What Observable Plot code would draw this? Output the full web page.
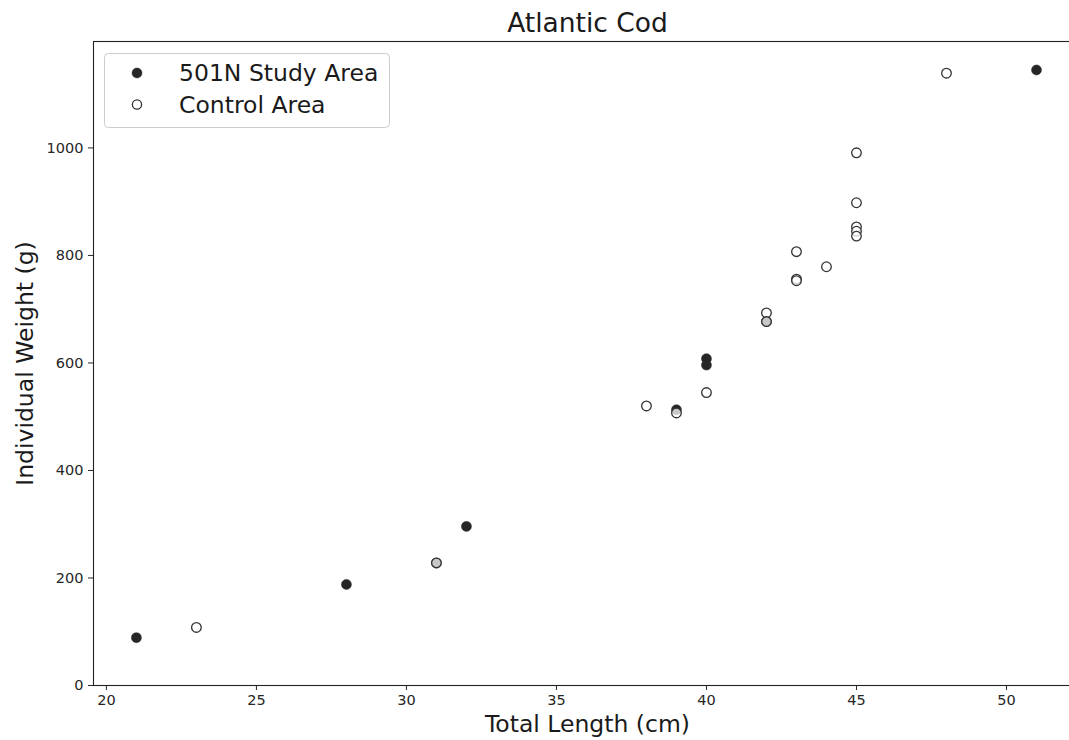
<!DOCTYPE html>
<html>
<head>
<meta charset="utf-8">
<script src="https://cdn.jsdelivr.net/npm/d3@7"></script>
<script src="https://cdn.jsdelivr.net/npm/@observablehq/plot@0.6"></script>
<style>
html, body { margin: 0; padding: 0; background: #fff; overflow: hidden; }
#chart { width: 1069px; height: 740px; overflow: hidden; }
</style>
</head>
<body>
<div id="chart"></div>
<script>
// ---- data ----
const title = "Atlantic Cod";
const xLabel = "Total Length (cm)";
const yLabel = "Individual Weight (g)";
const seriesNames = ["501N Study Area", "Control Area"];

const studyLength = [21, 28, 31, 32, 39, 40, 40, 42, 51];
const studyWeight = [89, 188, 228, 296, 513, 608, 596, 677, 1145];

const controlLength = [23, 31, 38, 39, 40, 42, 42, 43, 43, 43, 44, 45, 45, 45, 45, 45, 48];
const controlWeight = [108, 228, 520, 507, 545, 693, 677, 807, 756, 753, 779, 991, 898, 853, 845, 836, 1139];

const xTicks = [20, 25, 30, 35, 40, 45, 50];
const yTicks = [0, 200, 400, 600, 800, 1000];

const study = studyLength.map((l, i) => ({length: l, weight: studyWeight[i]}));
const control = controlLength.map((l, i) => ({length: l, weight: controlWeight[i]}));

const font = "DejaVu Sans, sans-serif";

const chart = Plot.plot({
  width: 1082,
  height: 740,
  marginLeft: 93,
  marginRight: 1,
  marginTop: 41,
  marginBottom: 55,
  style: {fontFamily: font, fontSize: "14.5px", color: "#262626", background: "#fff", maxWidth: "none"},
  x: {domain: [19.57, 52.5]},
  y: {domain: [0, 1198]},
  marks: [
    Plot.axisX({ticks: xTicks, tickSize: 5, tickPadding: 4, label: null, fontSize: 14.5, tickFormat: d => String(d)}),
    Plot.axisY({ticks: yTicks, tickSize: 5, tickPadding: 5, label: null, fontSize: 14.5, tickFormat: d => String(d)}),
    Plot.frame({stroke: "#222", strokeWidth: 1.1}),
    Plot.dot(study, {x: "length", y: "weight", r: 5, fill: "#262626", stroke: "#262626", strokeWidth: 0.5}),
    Plot.dot(control, {x: "length", y: "weight", r: 4.8, fill: "#fff", fillOpacity: 0.75, stroke: "#333", strokeWidth: 1.3}),
    Plot.text([title], {frameAnchor: "top", dy: -18, fontSize: 26.5, fill: "#1a1a1a", lineAnchor: "middle"}),
    Plot.text([xLabel], {frameAnchor: "bottom", dy: 39, fontSize: 23.5, fill: "#1a1a1a", lineAnchor: "middle"}),
    Plot.text([yLabel], {frameAnchor: "left", dx: -68, rotate: -90, fontSize: 23.5, fill: "#1a1a1a", lineAnchor: "middle", textAnchor: "middle"})
  ]
});
chart.style.maxWidth = "none";
chart.style.width = "1082px";
chart.style.height = "740px";

// legend
const svg = d3.select(chart);
const lg = svg.append("g").attr("font-family", font).attr("text-anchor", "start");
lg.append("rect")
  .attr("x", 104.5).attr("y", 53.5).attr("width", 285).attr("height", 74)
  .attr("rx", 4).attr("fill", "#fff").attr("fill-opacity", 0.8)
  .attr("stroke", "#ccc").attr("stroke-width", 1);
const rows = [
  {name: seriesNames[0], fill: "#262626", stroke: "#262626", sw: 0.5, r: 5},
  {name: seriesNames[1], fill: "#fff", stroke: "#333", sw: 1.3, r: 4.6}
];
rows.forEach((d, i) => {
  const cy = 73 + i * 31.5;
  lg.append("circle").attr("cx", 137).attr("cy", cy).attr("r", d.r)
    .attr("fill", d.fill).attr("stroke", d.stroke).attr("stroke-width", d.sw);
  lg.append("text").attr("x", 179).attr("y", cy).attr("dy", "0.35em")
    .attr("text-anchor", "start")
    .attr("font-size", 23.5).attr("fill", "#1a1a1a").text(d.name);
});

document.getElementById("chart").appendChild(chart);
</script>
</body>
</html>
